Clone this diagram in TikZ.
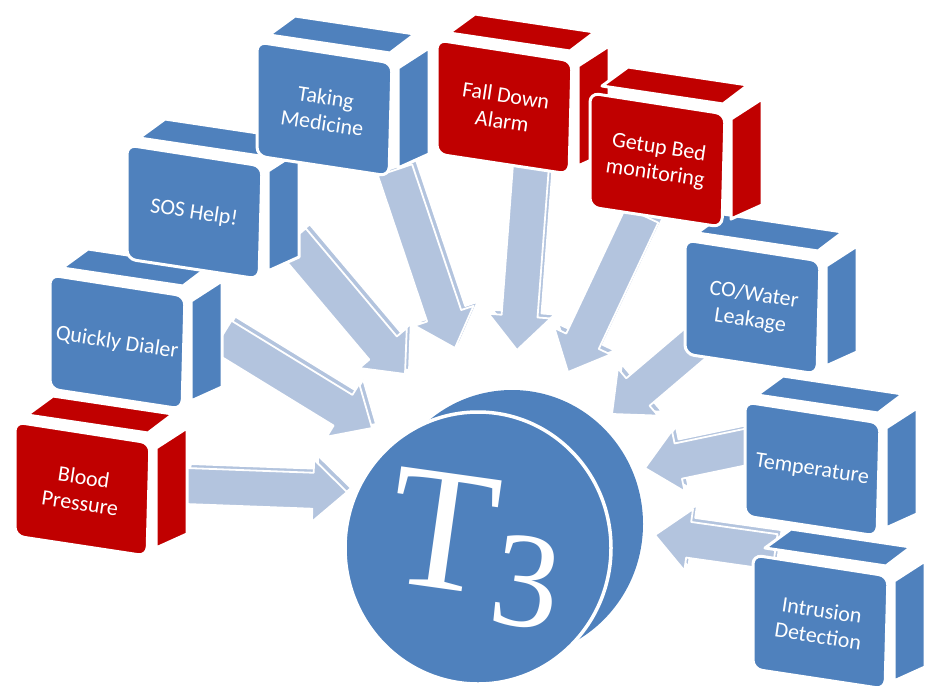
\documentclass[tikz,border=0pt]{standalone}
\usepackage{fontspec}
\newfontfamily\cubefont{Carlito}
\newfontfamily\tfont{Liberation Serif}
\usetikzlibrary{calc}
\definecolor{cblue}{HTML}{4F81BD}
\definecolor{cred}{HTML}{C00000}
\definecolor{carrow}{HTML}{B3C4DE}
\newcommand{\arrowpath}[2]{($(#1)!18pt!90:(#2)$) -- ($(#2n)!18pt!90:(#2)$) -- ($(#2n)!31pt!90:(#2)$) -- (#2) -- ($(#2n)!31pt!-90:(#2)$) -- ($(#2n)!18pt!-90:(#2)$) -- ($(#1)!18pt!-90:(#2)$) -- cycle}
\newcommand{\blockarrow}[2]{%
  \coordinate (#2n) at ($(#2)!34pt!(#1)$);
  \begin{scope}[transform canvas={shift={(4pt,4pt)}}]
    \filldraw[arr] \arrowpath{#1}{#2};
  \end{scope}
  \filldraw[arr] \arrowpath{#1}{#2};
}
\newcommand{\tcube}[4]{%
  \begin{scope}[shift={#2}]
    \filldraw[face,fill=#3] (12,-7) -- (38,-26) -- (158,-8) -- (133,11) -- cycle;
    \filldraw[face,fill=#3] (141,26) -- (172,6) -- (172,112) -- (141,126) -- cycle;
    \filldraw[face,fill=#3,rounded corners=9pt] (0,0) -- (135,21) -- (132,134) -- (0,114) -- cycle;
    \node[cubetext] (#1) at (67,68) {#4};
  \end{scope}}
\begin{document}
\begin{tikzpicture}[x=1pt,y=-1pt,
  face/.style={draw=white,line width=3pt,line join=round},
  cubetext/.style={text=white,font=\cubefont\fontsize{22}{26}\selectfont,align=center,rotate=-8.5,inner sep=0pt},
  arr/.style={fill=carrow,draw=white,line width=1.8pt,line join=round}]
\useasboundingbox (0,0) rectangle (926,686);
% arrows
\coordinate (t1) at (186,486); \coordinate (h1) at (347,492);
\coordinate (t2) at (222,336); \coordinate (h2) at (372,428);
\coordinate (t3) at (292,240); \coordinate (h3) at (405,374);
\coordinate (t4) at (395,170); \coordinate (h4) at (455,348);
\coordinate (t5) at (531,165); \coordinate (h5) at (517,350);
\coordinate (t6) at (642,215); \coordinate (h6) at (568,372);
\coordinate (t7) at (705,335); \coordinate (h7) at (612,414);
\coordinate (t8) at (760,444); \coordinate (h8) at (645,468);
\coordinate (t9) at (775,552); \coordinate (h9) at (655,535);
\blockarrow{t1}{h1}
\blockarrow{t2}{h2}
\blockarrow{t3}{h3}
\blockarrow{t4}{h4}
\blockarrow{t5}{h5}
\blockarrow{t6}{h6}
\blockarrow{t7}{h7}
\blockarrow{t8}{h8}
\blockarrow{t9}{h9}
% disc
\fill[cblue] (512,524) ellipse [x radius=131, y radius=134];
\filldraw[fill=cblue,draw=white,line width=3.5pt] (478,548) ellipse [x radius=133, y radius=136];
\node[text=white,font=\tfont\fontsize{176}{176}\selectfont,rotate=-8,inner sep=0pt] (center) at (476,549) {T\kern1pt\raisebox{-26pt}{\fontsize{136}{136}\selectfont 3}};
% cubes
\tcube{bp}{(15,422)}{cred}{Blood\\Pressure}
\tcube{qd}{(50,275)}{cblue}{Quickly Dialer}
\tcube{sos}{(127,145)}{cblue}{SOS Help!}
\tcube{tm}{(257,42)}{cblue}{Taking\\Medicine}
\tcube{fd}{(437,40)}{cred}{Fall Down\\Alarm}
\tcube{id}{(753,555)}{cblue}{Intrusion\\Detection}
\tcube{tp}{(745,402)}{cblue}{Temperature}
\tcube{co}{(685,240)}{cblue}{CO/Water\\Leakage}
\tcube{gb}{(590,93)}{cred}{Getup Bed\\monitoring}
\end{tikzpicture}
\end{document}
